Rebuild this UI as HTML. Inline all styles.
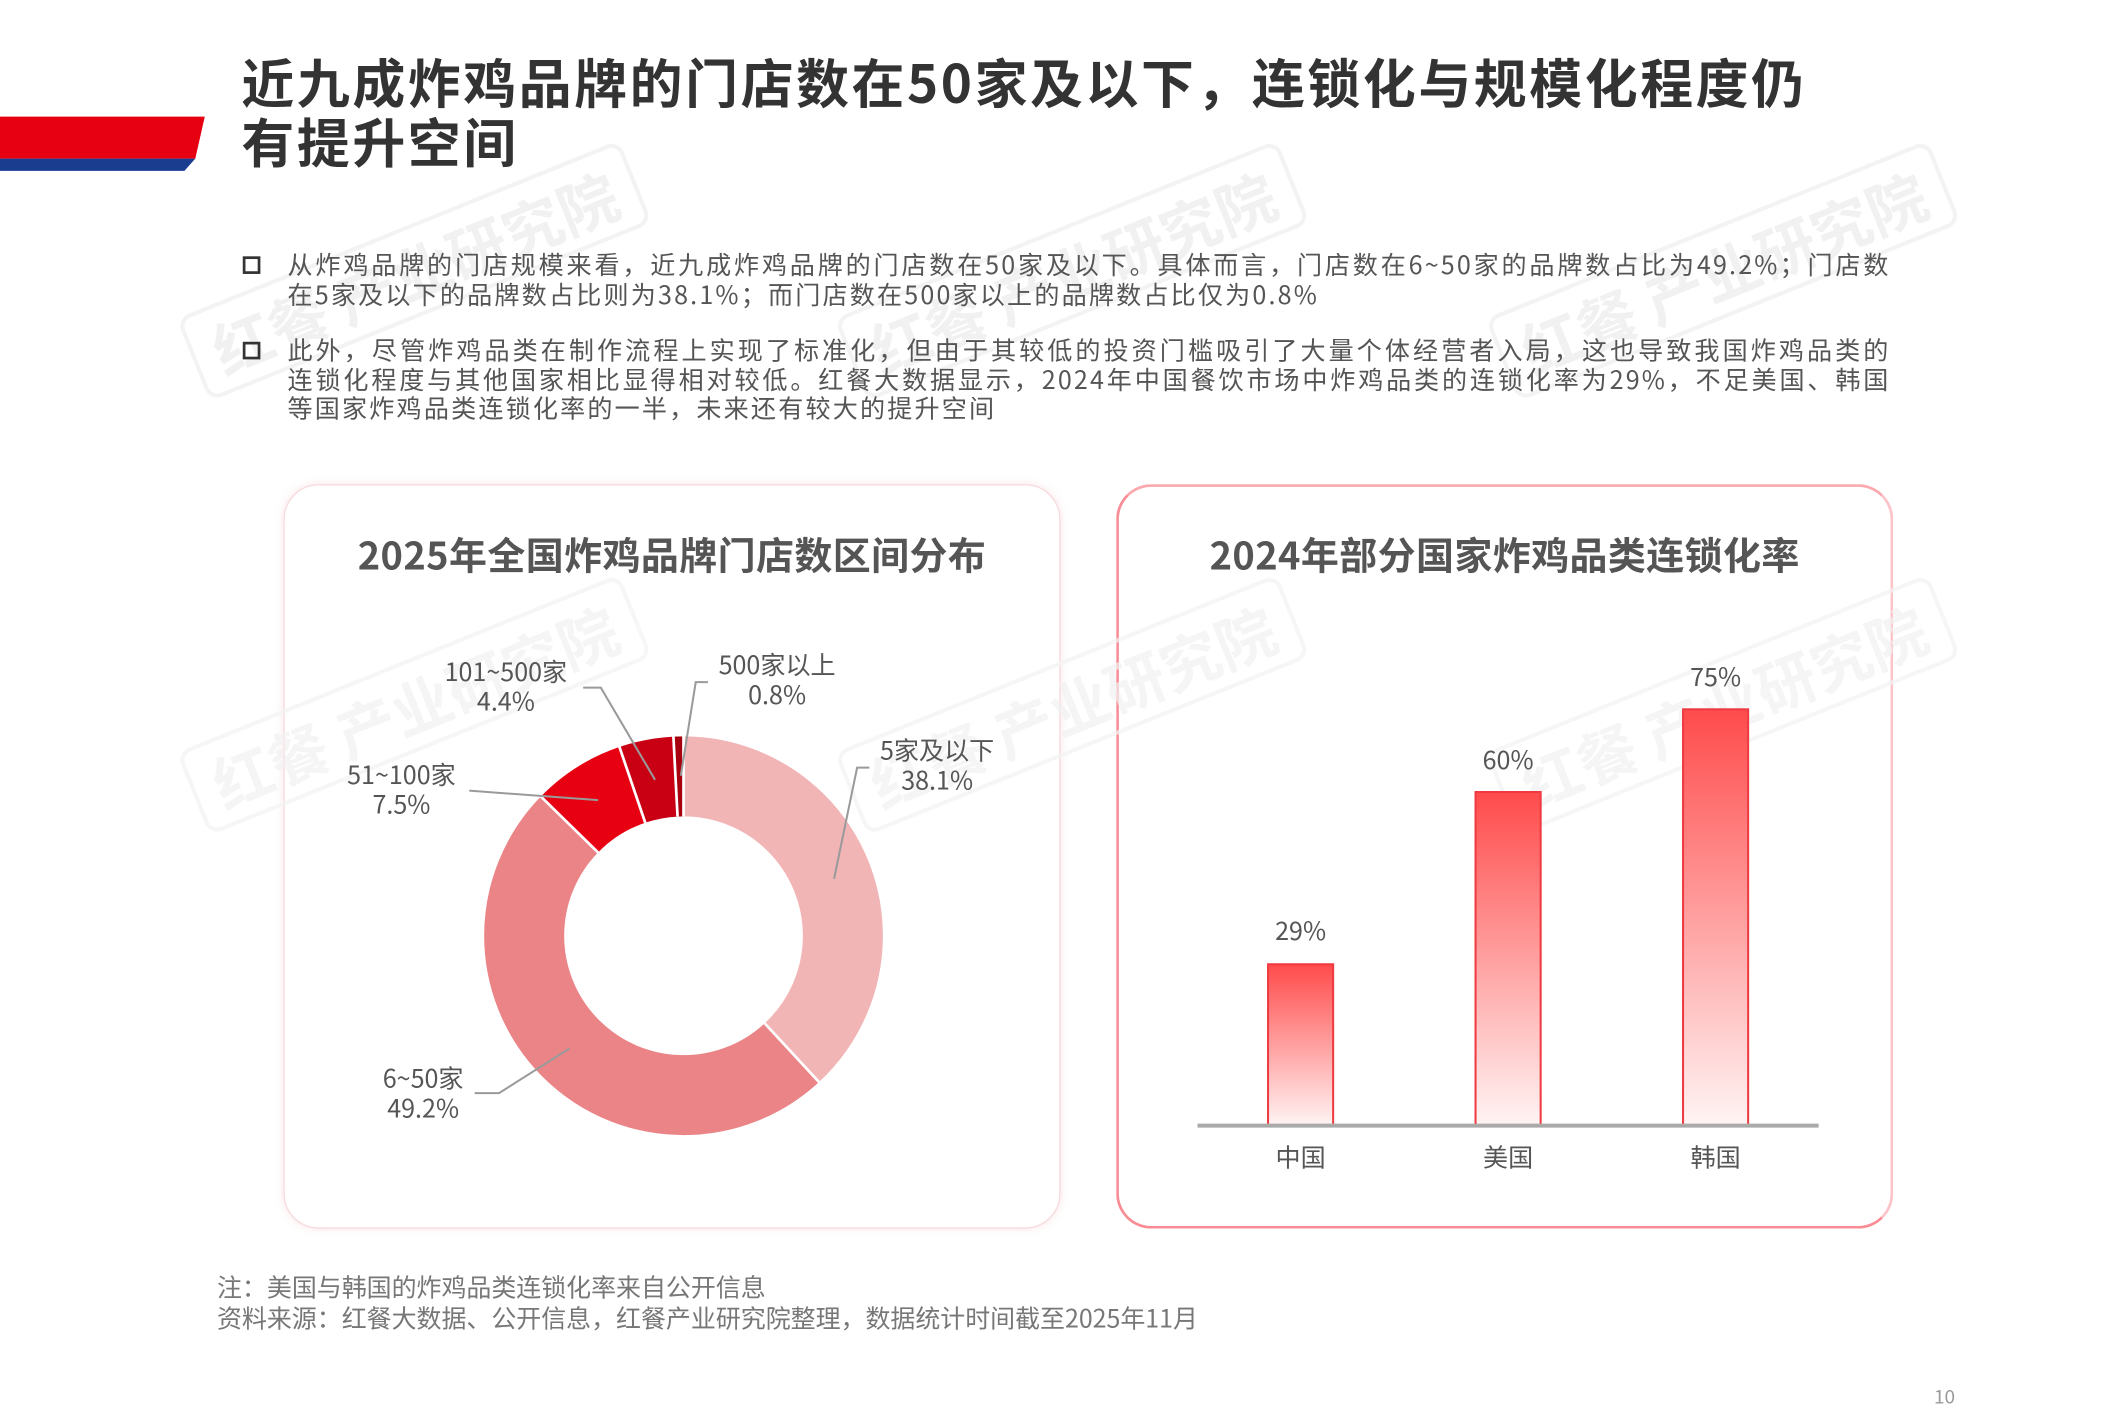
<!DOCTYPE html>
<html><head><meta charset="utf-8"><style>
html,body{margin:0;padding:0;background:#fff;}
body{width:2126px;height:1418px;overflow:hidden;position:relative;}
#w{position:absolute;left:0;top:0;width:1568px;height:1046px;transform:scale(1.3562);transform-origin:0 0;font-family:"Noto Sans CJK SC","Liberation Sans",sans-serif;}
.a{position:absolute;}
.title{left:178px;top:38px;font-size:39px;font-weight:bold;color:#333;line-height:44px;letter-spacing:1.9px;white-space:nowrap;}
.p{left:212px;width:1182px;font-size:18.5px;color:#555;line-height:21.5px;letter-spacing:1.6px;}
.p div{text-align:justify;text-align-last:justify;white-space:nowrap;}
.p div.l{text-align-last:left;}
.sq{width:9px;height:9px;border:2px solid #333;}
.card{border-radius:26px;background:#fff;box-sizing:border-box;}
.ct{font-size:28px;font-weight:bold;color:#555;text-align:center;white-space:nowrap;line-height:34px;letter-spacing:0.3px;}
.lb{font-size:18.5px;color:#555;text-align:center;line-height:22px;white-space:nowrap;transform:translateX(-50%);}
.wm{color:#f1f1f1;font-size:44px;font-weight:bold;white-space:nowrap;transform:rotate(-22deg);transform-origin:0 0;border:3px solid #f3f3f3;border-radius:10px;padding:0 14px;line-height:60px;}
</style></head><body><div id="w">
<div class="a wm" style="left:130px;top:235px">红餐 产业研究院</div>
<div class="a wm" style="left:615px;top:235px">红餐 产业研究院</div>
<div class="a wm" style="left:1095px;top:235px">红餐 产业研究院</div>

<svg class="a" style="left:0;top:0" width="160" height="130"><polygon points="0,86 151,86 144,117 0,117" fill="#e60012"/><polygon points="0,117 144,117 136,126 0,126" fill="#1a3d8f"/></svg>
<div class="a title">近九成炸鸡品牌的门店数在50家及以下，连锁化与规模化程度仍<br>有提升空间</div>

<div class="a sq" style="left:179px;top:189px"></div>
<div class="a p" style="top:185px"><div>从炸鸡品牌的门店规模来看，近九成炸鸡品牌的门店数在50家及以下。具体而言，门店数在6~50家的品牌数占比为49.2%；门店数</div><div class="l">在5家及以下的品牌数占比则为38.1%；而门店数在500家以上的品牌数占比仅为0.8%</div></div>
<div class="a sq" style="left:179px;top:252px"></div>
<div class="a p" style="top:248px"><div>此外，尽管炸鸡品类在制作流程上实现了标准化，但由于其较低的投资门槛吸引了大量个体经营者入局，这也导致我国炸鸡品类的</div><div>连锁化程度与其他国家相比显得相对较低。红餐大数据显示，2024年中国餐饮市场中炸鸡品类的连锁化率为29%，不足美国、韩国</div><div class="l">等国家炸鸡品类连锁化率的一半，未来还有较大的提升空间</div></div>

<div class="a card" style="left:209px;top:357px;width:573px;height:549px;border:1.5px solid #f7dcdf;box-shadow:0 0 6px rgba(240,180,185,0.35);"></div>
<div class="a card" style="left:823px;top:357px;width:573px;height:549px;border:2px solid #f98c95;border-right-color:#fcc4c8;border-top-color:#fba8ae;"></div>
<div class="a wm" style="left:130px;top:555px;opacity:.7">红餐 产业研究院</div>
<div class="a wm" style="left:615px;top:555px;opacity:.7">红餐 产业研究院</div>
<div class="a wm" style="left:1095px;top:555px;opacity:.7">红餐 产业研究院</div>

<div class="a ct" style="left:209px;width:573px;top:392px">2025年全国炸鸡品牌门店数区间分布</div>
<div class="a ct" style="left:823px;width:573px;top:392px">2024年部分国家炸鸡品类连锁化率</div>

<svg class="a" style="left:0;top:0" width="1556" height="1038">
<g transform="rotate(-90 504 690)" fill="none" stroke-width="59">
<circle cx="504" cy="690" r="117.5" stroke="#f2b5b6" stroke-dasharray="281.28 1000" stroke-dashoffset="0"/>
<circle cx="504" cy="690" r="117.5" stroke="#eb8486" stroke-dasharray="363.23 1000" stroke-dashoffset="-281.28"/>
<circle cx="504" cy="690" r="117.5" stroke="#e60012" stroke-dasharray="55.37 1000" stroke-dashoffset="-644.51"/>
<circle cx="504" cy="690" r="117.5" stroke="#c90014" stroke-dasharray="32.48 1000" stroke-dashoffset="-699.88"/>
<circle cx="504" cy="690" r="117.5" stroke="#a8000f" stroke-dasharray="5.91 1000" stroke-dashoffset="-732.36"/>
</g>
<g stroke="#fff" stroke-width="2">
<line x1="504" y1="602" x2="504" y2="542"/>
<line x1="563.8" y1="754.5" x2="604.5" y2="798.5"/>
<line x1="441" y1="628.6" x2="398.5" y2="587"/>
<line x1="475.8" y1="606.7" x2="456.6" y2="550.3"/>
<line x1="499.6" y1="602.1" x2="496.5" y2="542.5"/>
</g>
<g stroke="#9a9a9a" stroke-width="1.5" fill="none">
<polyline points="641,566 632,566 615,648"/>
<polyline points="522,503 513,503 502,572"/>
<polyline points="430,507 443,507 483,575"/>
<polyline points="346,583 441,590"/>
<polyline points="350,806 368,806 420,773"/>
</g>
<defs><linearGradient id="g" x1="0" y1="0" x2="0" y2="1"><stop offset="0" stop-color="#ff4b4b"/><stop offset="1" stop-color="#fff4f4"/></linearGradient></defs>
<g stroke="#ee3a40" stroke-width="1.5">
<rect x="935" y="711" width="48" height="119" fill="url(#g)"/>
<rect x="1088" y="584" width="48" height="246" fill="url(#g)"/>
<rect x="1241" y="523" width="48" height="307" fill="url(#g)"/>
</g>
<line x1="883" y1="830" x2="1341" y2="830" stroke="#aaa" stroke-width="3"/>
</svg>

<div class="a lb" style="left:573px;top:479px">500家以上<br>0.8%</div>
<div class="a lb" style="left:691px;top:542px">5家及以下<br>38.1%</div>
<div class="a lb" style="left:373px;top:484px">101~500家<br>4.4%</div>
<div class="a lb" style="left:296px;top:560px">51~100家<br>7.5%</div>
<div class="a lb" style="left:312px;top:784px">6~50家<br>49.2%</div>

<div class="a lb" style="left:959px;top:675px">29%</div>
<div class="a lb" style="left:1112px;top:549px">60%</div>
<div class="a lb" style="left:1265px;top:488px">75%</div>
<div class="a lb" style="left:959px;top:842px">中国</div>
<div class="a lb" style="left:1112px;top:842px">美国</div>
<div class="a lb" style="left:1265px;top:842px">韩国</div>

<div class="a" style="left:160px;top:938px;font-size:18.4px;color:#777;line-height:23px;white-space:nowrap">注：美国与韩国的炸鸡品类连锁化率来自公开信息<br>资料来源：红餐大数据、公开信息，红餐产业研究院整理，数据统计时间截至2025年11月</div>
<div class="a" style="left:1426px;top:1020px;font-size:14px;color:#999">10</div>
</div></body></html>
